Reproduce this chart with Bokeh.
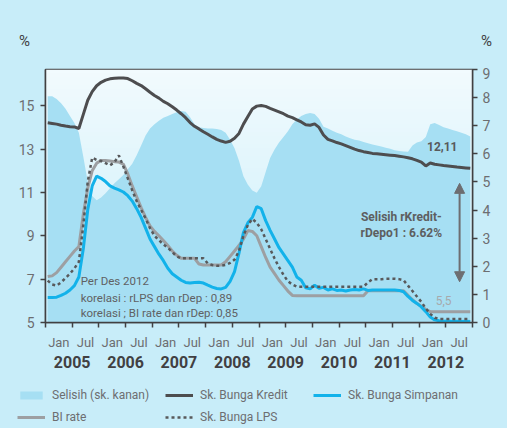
from bokeh.plotting import figure
from bokeh.layouts import column
from bokeh.models import (Range1d, LinearAxis, FixedTicker, Legend, LegendItem,
                          Label, Arrow, NormalHead)
from bokeh.embed import file_html
from bokeh.resources import INLINE
import numpy as np
import re

# ---- data: monthly, Jan 2005 .. Dec 2012 -------------------------------
years = ["2005", "2006", "2007", "2008", "2009", "2010", "2011", "2012"]
half_year_labels = ["Jan", "Jul"]

# spread between lending and deposit rate (right axis, %)
selisih = [8.05, 8.05, 7.95, 7.8, 7.6, 7.35, 7.1, 6.75, 5.9, 5.0, 4.5, 4.35,
           4.45, 4.6, 4.78, 4.95, 5.1, 5.25, 5.45, 5.65, 5.95, 6.3, 6.65, 6.9,
           7.05, 7.18, 7.28, 7.35, 7.42, 7.48, 7.52, 7.5, 7.3, 7.05, 6.95, 6.92,
           6.9, 6.9, 6.88, 6.85, 6.75, 6.5, 6.2, 5.75, 5.2, 4.9, 4.7, 4.62,
           4.85, 5.35, 5.85, 6.15, 6.4, 6.6, 6.8, 7.05, 7.22, 7.35, 7.42, 7.45,
           7.42, 7.25, 6.96, 6.9, 6.82, 6.75, 6.7, 6.62, 6.55, 6.5, 6.47, 6.42,
           6.38, 6.33, 6.3, 6.26, 6.22, 6.18, 6.13, 6.1, 6.08, 6.07, 6.3, 6.4,
           6.45, 6.6, 7.05, 7.1, 7.03, 6.95, 6.9, 6.85, 6.8, 6.75, 6.7, 6.62]

# lending rate (left axis, %)
kredit = [14.21, 14.18, 14.15, 14.10, 14.06, 14.03, 14.02, 13.95, 14.6, 15.25, 15.65, 15.92,
          16.08, 16.18, 16.24, 16.27, 16.28, 16.28, 16.25, 16.15, 16.03, 15.93, 15.78, 15.62,
          15.47, 15.35, 15.2, 15.09, 14.95, 14.8, 14.63, 14.45, 14.22, 14.05, 13.93, 13.8,
          13.68, 13.56, 13.45, 13.37, 13.31, 13.36, 13.5, 13.72, 14.15, 14.5, 14.85, 14.98,
          15.01, 14.97, 14.88, 14.8, 14.72, 14.63, 14.52, 14.45, 14.35, 14.25, 14.12, 14.1,
          14.16, 14.0, 13.65, 13.45, 13.38, 13.3, 13.24, 13.16, 13.08, 13.0, 12.93, 12.88,
          12.84, 12.8, 12.78, 12.76, 12.74, 12.72, 12.7, 12.67, 12.64, 12.6, 12.55, 12.48,
          12.4, 12.22, 12.36, 12.3, 12.27, 12.24, 12.22, 12.2, 12.17, 12.15, 12.13, 12.11]

# deposit rate (left axis, %)
simpanan = [6.15, 6.15, 6.17, 6.25, 6.35, 6.5, 6.7, 7.1, 8.4, 10.2, 11.3, 11.75,
            11.65, 11.5, 11.3, 11.2, 11.12, 11.02, 10.85, 10.6, 10.25, 9.85, 9.35, 8.85,
            8.5, 8.15, 7.85, 7.5, 7.25, 7.1, 6.95, 6.85, 6.82, 6.84, 6.86, 6.82,
            6.72, 6.63, 6.57, 6.55, 6.62, 6.9, 7.35, 8.2, 9.15, 9.6, 9.85, 10.35,
            10.25, 9.7, 9.25, 8.85, 8.45, 8.15, 7.85, 7.55, 7.1, 6.95, 6.6, 6.55,
            6.72, 6.58, 6.62, 6.5, 6.55, 6.48, 6.5, 6.45, 6.5, 6.52, 6.5, 6.55,
            6.48, 6.5, 6.5, 6.5, 6.5, 6.5, 6.5, 6.48, 6.42, 6.2, 6.02, 5.88,
            5.72, 5.5, 5.25, 5.12, 5.08, 5.06, 5.07, 5.05, 5.06, 5.05, 5.06, 5.05]

# BI rate (left axis, %)
bi_rate = [7.12, 7.15, 7.3, 7.55, 7.8, 8.05, 8.3, 8.5, 10.0, 11.2, 12.0, 12.35,
           12.47, 12.47, 12.45, 12.42, 12.4, 12.3, 11.85, 11.3, 10.8, 10.3, 9.85, 9.45,
           9.2, 9.0, 8.78, 8.55, 8.3, 8.1, 7.96, 7.96, 7.96, 7.96, 7.7, 7.65,
           7.65, 7.65, 7.65, 7.65, 7.8, 8.05, 8.3, 8.55, 8.85, 9.24, 9.2, 9.0,
           8.5, 8.0, 7.55, 7.25, 6.95, 6.7, 6.45, 6.25, 6.23, 6.23, 6.23, 6.23,
           6.23, 6.23, 6.23, 6.23, 6.23, 6.23, 6.23, 6.23, 6.23, 6.23, 6.23, 6.23,
           6.46, 6.46, 6.46, 6.46, 6.46, 6.46, 6.46, 6.46, 6.46, 6.25, 6.05, 5.88,
           5.75, 5.6, 5.5, 5.5, 5.5, 5.5, 5.5, 5.5, 5.5, 5.5, 5.5, 5.5]

# LPS guarantee rate (left axis, %)
lps = [6.93, 6.75, 6.7, 6.85, 7.05, 7.25, 7.5, 7.8, 9.5, 11.5, 12.6, 12.5,
       12.45, 12.35, 12.25, 12.4, 12.7, 12.2, 11.65, 11.1, 10.6, 10.2, 9.8, 9.35,
       9.0, 8.8, 8.6, 8.45, 8.25, 8.05, 7.96, 7.96, 7.96, 7.96, 7.96, 7.96,
       7.72, 7.65, 7.62, 7.62, 7.65, 7.75, 7.9, 8.3, 9.0, 9.5, 9.78, 9.6,
       9.3, 8.85, 8.4, 7.95, 7.55, 7.2, 6.9, 6.75, 6.65, 6.65, 6.65, 6.65,
       6.65, 6.65, 6.65, 6.65, 6.65, 6.65, 6.65, 6.65, 6.65, 6.65, 6.65, 6.65,
       6.85, 7.0, 7.0, 7.0, 7.02, 7.02, 7.02, 7.0, 6.95, 6.7, 6.45, 6.2,
       5.95, 5.65, 5.4, 5.22, 5.16, 5.16, 5.16, 5.16, 5.16, 5.16, 5.16, 5.16]

left_ticks = [5, 7, 9, 11, 13, 15]
right_ticks = [0, 1, 2, 3, 4, 5, 6, 7, 8, 9]

# ---- styling --------------------------------------------------------------
FONT = "Roboto"
BG = "#c8edf9"
AREA = "#a6dff3"
DARK = "#414042"
TICK = "#6d6e71"
KREDIT_C = "#4d4d4f"
SIMPANAN_C = "#12b2ea"
BI_C = "#9d9fa2"
LPS_C = "#58595b"

n = len(kredit)
x = [i + 0.5 for i in range(n)]          # month index, centred in the month


def blank_strip(height):
    """A plain, axis-less strip used for text around the chart."""
    f = figure(width=507, height=height, output_backend="svg", toolbar_location=None,
               x_range=Range1d(0, 507), y_range=Range1d(0, height),
               x_axis_location=None, y_axis_location=None, min_border=0,
               outline_line_color=None, background_fill_color=BG, border_fill_color=BG,
               styles={"background-color": BG})
    f.frame_align = False
    f.xgrid.visible = False
    f.ygrid.visible = False
    return f


# ---- header strip with the two unit markers ------------------------------
head = blank_strip(67)
for hx in (24, 486):
    head.add_layout(Label(x=hx, y=27, text="%", text_font=FONT, text_font_size="15px",
                          text_color=DARK, text_align="center", text_baseline="middle"))

# ---- main chart -------------------------------------------------------------
p = figure(width=507, height=311, output_backend="svg", toolbar_location=None,
           x_range=Range1d(0, 96), y_range=Range1d(5, 16.67),
           min_border_left=45, min_border_right=35, min_border_top=2,
           min_border_bottom=56, border_fill_color=BG, background_fill_color=BG,
           outline_line_color=DARK, outline_line_width=1.5,
           styles={"background-color": BG})
p.frame_align = False
p.extra_y_ranges = {"right": Range1d(0, 9)}
p.xgrid.visible = False
p.ygrid.visible = False

# soft vertical gradient behind the series
rows = 64
top_c = np.array([242, 251, 254], dtype=float)
bot_c = np.array([200, 238, 250], dtype=float)
img = np.empty((rows, 1), dtype=np.uint32)
view = img.view(dtype=np.uint8).reshape((rows, 1, 4))
for r in range(rows):
    t = r / (rows - 1)
    c = bot_c * (1 - t) + top_c * t
    view[r, 0, 0:3] = c.astype(np.uint8)
    view[r, 0, 3] = 255
p.image_rgba(image=[img], x=0, y=5, dw=96, dh=11.67)

p.varea(x=x, y1=[0] * n, y2=selisih, y_range_name="right", fill_color=AREA)
p.line(x, kredit, line_color=KREDIT_C, line_width=3)
p.line(x, bi_rate, line_color=BI_C, line_width=3)
p.line(x, simpanan, line_color=SIMPANAN_C, line_width=3)
p.line(x, lps, line_color=LPS_C, line_width=2.5, line_dash="3 3")

# ---- axes -----------------------------------------------------------------
def style_y(ax, standoff):
    ax.axis_line_color = DARK
    ax.axis_line_width = 1.5
    ax.major_tick_line_color = DARK
    ax.major_tick_line_width = 1.5
    ax.major_tick_out = 5
    ax.major_tick_in = 0
    ax.minor_tick_line_color = None
    ax.major_label_text_font = FONT
    ax.major_label_text_font_size = "14px"
    ax.major_label_text_color = TICK
    ax.major_label_standoff = standoff

left = p.yaxis[0]
left.ticker = FixedTicker(ticks=left_ticks)
style_y(left, 6)

right = LinearAxis(y_range_name="right", ticker=FixedTicker(ticks=right_ticks))
style_y(right, 5)
p.add_layout(right, "right")

# half-year axis: labels in the middle of each half-year, ticks on its edges
mids = [6 * k + 3 for k in range(16)]
edges = [6 * k for k in range(17)]
xa = p.xaxis[0]
xa.ticker = FixedTicker(ticks=mids, minor_ticks=edges)
xa.major_label_overrides = {m: half_year_labels[k % 2] for k, m in enumerate(mids)}
xa.axis_line_color = DARK
xa.axis_line_width = 1.5
xa.major_tick_line_color = None
xa.major_tick_out = 5
xa.major_tick_in = 0
xa.minor_tick_line_color = DARK
xa.minor_tick_line_width = 1.5
xa.minor_tick_out = 5
xa.minor_tick_in = 0
xa.major_label_text_font = FONT
xa.major_label_text_font_size = "13px"
xa.major_label_text_color = TICK
xa.major_label_standoff = 7

year_mids = [12 * k + 6 for k in range(len(years))]
ya = LinearAxis(ticker=FixedTicker(ticks=year_mids))
ya.major_label_overrides = {m: years[k] for k, m in enumerate(year_mids)}
ya.axis_line_color = None
ya.major_tick_line_color = None
ya.minor_tick_line_color = None
ya.major_tick_out = 0
ya.major_tick_in = 0
ya.major_label_text_font = FONT
ya.major_label_text_font_size = "16px"
ya.major_label_text_font_style = "bold"
ya.major_label_text_color = DARK
ya.major_label_standoff = 3
p.add_layout(ya, "below")

# ---- annotations ------------------------------------------------------------
def lab(xv, yv, text, size="12px", color=TICK, bold=False, align="center",
        rng="default"):
    p.add_layout(Label(x=xv, y=yv, text=text, text_font=FONT, text_font_size=size,
                       text_color=color, text_align=align, text_baseline="middle",
                       text_font_style="bold" if bold else "normal",
                       y_range_name=rng))

lab(89.2, 13.1, f"{kredit[-1]:.2f}".replace(".", ","), color="#58595b", bold=True)
lab(80.0, 3.75, "Selisih rKredit-", color="#5d5e60", bold=True, rng="right")
lab(80.0, 3.19, f"rDepo1 : {selisih[-1]:.2f}%", color="#5d5e60", bold=True, rng="right")
lab(89.5, 0.8, f"{bi_rate[-1]:.1f}".replace(".", ","), size="12px", color="#a7a9ac",
    rng="right")

lab(7.9, 6.93, "Per Des 2012", size="11.5px", color="#606163", align="left")
lab(7.9, 6.15, "korelasi : rLPS dan rDep : 0,89", size="11.5px", color="#606163", align="left")
lab(7.9, 5.46, "korelasi ; BI rate dan rDep: 0,85", size="11.5px", color="#606163", align="left")

head_kw = dict(size=10, fill_color="#6d6e71", line_color="#6d6e71")
p.add_layout(Arrow(x_start=93.1, y_start=1.45, x_end=93.1, y_end=4.95,
                   y_range_name="right", line_color="#6d6e71", line_width=2,
                   start=NormalHead(**head_kw), end=NormalHead(**head_kw)))

# ---- legend strip ---------------------------------------------------------
# the swatch renderers hold a single empty (NaN) point: they only feed the legend
nan = [float("nan")]
foot = blank_strip(50)
swatches = [
    ("Selisih (sk. kanan)", foot.varea(x=nan, y1=nan, y2=nan, fill_color=AREA)),
    ("Sk. Bunga Kredit", foot.line(nan, nan, line_color=KREDIT_C, line_width=3)),
    ("Sk. Bunga Simpanan", foot.line(nan, nan, line_color=SIMPANAN_C, line_width=3)),
    ("BI rate", foot.line(nan, nan, line_color=BI_C, line_width=3)),
    ("Sk. Bunga LPS", foot.line(nan, nan, line_color=LPS_C, line_width=2.5, line_dash="3 3")),
]
legend = Legend(items=[LegendItem(label=t, renderers=[r]) for t, r in swatches],
                location=(17, 1), orientation="horizontal", ncols=3)
legend.background_fill_alpha = 0
legend.border_line_color = None
legend.padding = 0
legend.margin = 0
legend.spacing = 2
legend.glyph_width = 28
legend.glyph_height = 10
legend.label_standoff = 7
legend.label_width = 111
legend.label_height = 20
legend.label_text_font = FONT
legend.label_text_font_size = "12px"
legend.label_text_color = TICK
foot.add_layout(legend)

layout = column(head, p, foot, spacing=0, styles={"background-color": BG})
html = file_html(layout, INLINE)
html = re.sub(r"<body[^>]*>", f'<body style="margin:0;background:{BG}">', html, count=1)
open("out.html", "w").write(html)
